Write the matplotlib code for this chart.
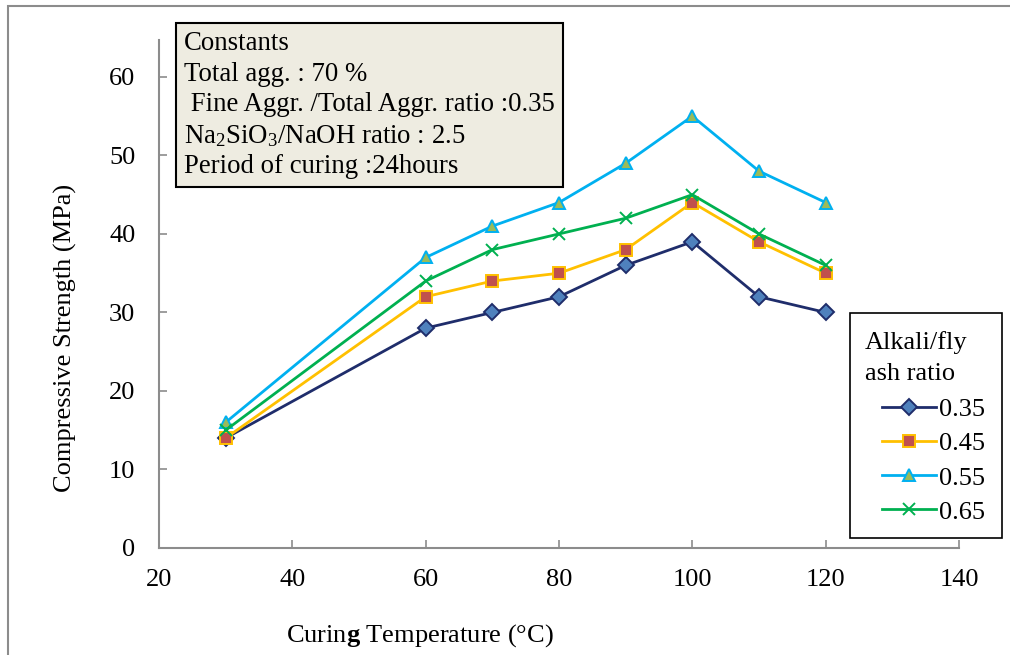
import matplotlib
matplotlib.use("Agg")
import matplotlib.pyplot as plt
from matplotlib.patches import Rectangle

# Curing temperature (°C) and compressive strength (MPa) per alkali/fly ash ratio
temps = [30, 60, 70, 80, 90, 100, 110, 120]
ratio_labels = ["0.35", "0.45", "0.55", "0.65"]
s_035 = [14, 28, 30, 32, 36, 39, 32, 30]
s_045 = [14, 32, 34, 35, 38, 44, 39, 35]
s_055 = [16, 37, 41, 44, 49, 55, 48, 44]
s_065 = [15, 34, 38, 40, 42, 45, 40, 36]

x_ticks = [20, 40, 60, 80, 100, 120, 140]
y_ticks = [0, 10, 20, 30, 40, 50, 60]

plt.rcParams['font.family'] = ['Liberation Serif', 'DejaVu Serif']
plt.rcParams['mathtext.fontset'] = 'custom'
plt.rcParams['mathtext.rm'] = 'Liberation Serif'
plt.rcParams['mathtext.it'] = 'Liberation Serif:italic'
plt.rcParams['mathtext.bf'] = 'Liberation Serif:bold'

FS = 19
W, H = 1010, 655

fig = plt.figure(figsize=(10.1, 6.55), dpi=100)
ax = fig.add_axes([159 / W, 107 / H, 800 / W, 508 / H])

# outer chart frame
fig.patches.append(Rectangle((8 / W, -0.05), 1.1, (H - 6) / H + 0.05,
                             transform=fig.transFigure, fill=False,
                             edgecolor='#8c8c8c', linewidth=1.5))

styles = [
    (s_035, '#1f2d6b', 'D', '#4f81bd', '#1f2d6b', 8),
    (s_045, '#ffc000', 's', '#c0504d', '#ffc000', 9),
    (s_055, '#00b0f0', '^', '#9bbb59', '#00b0f0', 9),
    (s_065, '#00b050', 'x', '#00b050', '#00b050', 9),
]
for (vals, col, mk, fc, ec, ms), lab in zip(styles, ratio_labels):
    ax.plot(temps, vals, color=col, linewidth=2, marker=mk, markersize=ms,
            markerfacecolor=fc, markeredgecolor=ec, markeredgewidth=1.4,
            label=lab)

ax.set_xlim(20, 140)
ax.set_ylim(0, 64.7)
ax.set_xticks(x_ticks)
ax.set_yticks(y_ticks)
ax.tick_params(direction='in', length=6, width=1.2, color='#8c8c8c',
               labelsize=FS, pad=15)
ax.tick_params(axis='y', pad=17)
for side in ['top', 'right']:
    ax.spines[side].set_visible(False)
for side in ['left', 'bottom']:
    ax.spines[side].set_color('#8c8c8c')
    ax.spines[side].set_linewidth(1.5)

fig.text(420 / W, 1 - 636 / H, r'Curin$\mathbf{g}$ Temperature (°C)',
         ha='center', va='center', fontsize=FS)
fig.text(65 / W, 1 - 338 / H, 'Compressive Strength (MPa)',
         ha='center', va='center', rotation=90, fontsize=FS)

# constants box
box_text = ("Constants\nTotal agg. : 70 %\n Fine Aggr. /Total Aggr. ratio :0.35\n"
            "Na$_2$SiO$_3$/NaOH ratio : 2.5\nPeriod of curing :24hours")
fig.text(184 / W, 1 - 31 / H, box_text, ha='left', va='top', fontsize=19.3,
         linespacing=1.29,
         bbox=dict(boxstyle='square,pad=0.3', facecolor='#eeece1',
                   edgecolor='black', linewidth=1.5))

# legend: frame + title drawn separately so the entries can be indented
fig.patches.append(Rectangle((850 / W, 1 - 538 / H), 152 / W, 225 / H,
                             transform=fig.transFigure, facecolor='white',
                             edgecolor='black', linewidth=1.2, zorder=5))
fig.text(865 / W, 1 - 358 / H, 'Alkali/fly\nash ratio', ha='left',
         va='center', fontsize=FS, linespacing=1.55, zorder=6)
leg = ax.legend(loc='upper left', bbox_to_anchor=(882 / W, 1 - 398 / H),
                bbox_transform=fig.transFigure, borderaxespad=0,
                fontsize=FS, frameon=False, handlelength=2.05,
                handletextpad=0.1, borderpad=0, labelspacing=0.4)
leg.set_zorder(7)
leg.remove()
fig.add_artist(leg)

fig.savefig('out.png', dpi=100)
